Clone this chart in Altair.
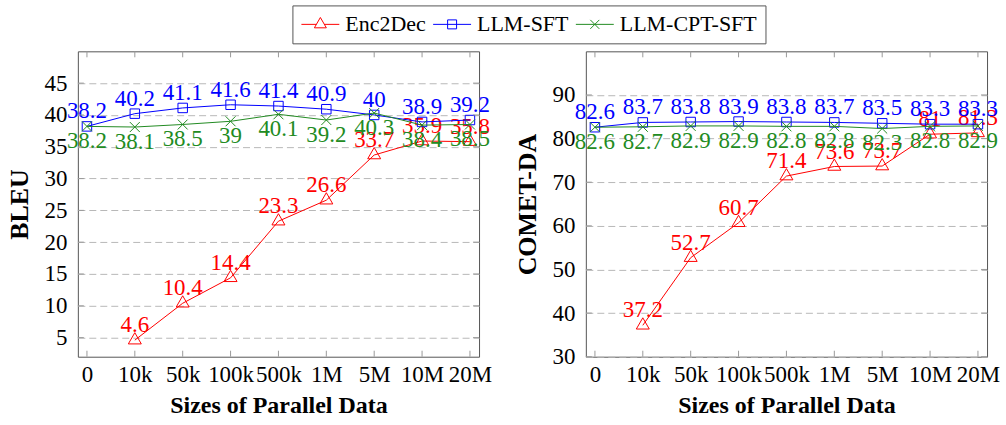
import altair as alt
import pandas as pd

sizes = ["0", "10k", "50k", "100k", "500k", "1M", "5M", "10M", "20M"]
models = ["Enc2Dec", "LLM-SFT", "LLM-CPT-SFT"]
colors = ["#ff0000", "#0000ff", "#228b22"]

bleu_enc2dec = [None, 4.6, 10.4, 14.4, 23.3, 26.6, 33.7, 35.9, 35.8]
bleu_llm_sft = [38.2, 40.2, 41.1, 41.6, 41.4, 40.9, 40.0, 38.9, 39.2]
bleu_llm_cpt_sft = [38.2, 38.1, 38.5, 39.0, 40.1, 39.2, 40.3, 38.4, 38.5]

comet_enc2dec = [None, 37.2, 52.7, 60.7, 71.4, 73.6, 73.7, 81.0, 81.3]
comet_llm_sft = [82.6, 83.7, 83.8, 83.9, 83.8, 83.7, 83.5, 83.3, 83.3]
comet_llm_cpt_sft = [82.6, 82.7, 82.9, 82.9, 82.8, 82.8, 82.3, 82.8, 82.9]

bleu_ticks = [5, 10, 15, 20, 25, 30, 35, 40, 45]
comet_ticks = [30, 40, 50, 60, 70, 80, 90]

FONT = "Liberation Serif"
FS = 23
W, H = 402, 306

# marker shapes (plot) and legend symbols (line + marker)
marker_paths = {
    "Enc2Dec": "M0,-1.1547L1,0.5774L-1,0.5774Z",
    "LLM-SFT": "M-1,-1H1V1H-1Z",
    "LLM-CPT-SFT": "M-1,-1L1,1M-1,1L1,-1",
}
marker_sizes = {"Enc2Dec": 169, "LLM-SFT": 90, "LLM-CPT-SFT": 100}
legend_paths = [
    "M-1,0H0.5M1.3,0H2.8M0.9,-0.69L1.5,0.346L0.3,0.346Z",
    "M-1,0H2.8M0.45,-0.45H1.35V0.45H0.45Z",
    "M-1,0H2.8M0.45,-0.45L1.35,0.45M0.45,0.45L1.35,-0.45",
]
label_below = {"Enc2Dec": False, "LLM-SFT": False, "LLM-CPT-SFT": True}


def fmt(v):
    return f"{v:g}"


def panel(series, ydomain, yticks, ytitle, with_legend):
    xscale = alt.Scale(domain=[-0.19, 8.19], nice=False, zero=False)
    yscale = alt.Scale(domain=ydomain, nice=False, zero=False)
    label_expr = "[" + ",".join(f"'{s}'" for s in sizes) + "][datum.value]"
    xaxis = alt.Axis(
        values=list(range(len(sizes))), labelExpr=label_expr, grid=False,
        title="Sizes of Parallel Data", titleFontSize=24, titlePadding=7,
        labelPadding=7, labelOverlap=False, labelFlush=False,
    )
    yaxis = alt.Axis(
        values=yticks, grid=True, title=ytitle, titleFontSize=26,
        titlePadding=11, labelPadding=11, labelOverlap=False, labelFlush=False,
    )
    layers = []
    all_rows = []
    for model, vals, color in zip(models, series, colors):
        rows = [
            {"idx": i, "size": s, "value": v, "label": fmt(v), "model": model}
            for i, (s, v) in enumerate(zip(sizes, vals)) if v is not None
        ]
        all_rows += rows
        df = pd.DataFrame(rows)
        base = alt.Chart(df).encode(
            x=alt.X("idx:Q", scale=xscale, axis=xaxis),
            y=alt.Y("value:Q", scale=yscale, axis=yaxis),
        )
        layers.append(base.mark_line(color=color, strokeWidth=1))
        layers.append(base.mark_point(
            shape=marker_paths[model], size=marker_sizes[model], filled=False,
            color=color, strokeWidth=1, opacity=1))
        if label_below[model]:
            txt = base.mark_text(color=color, font=FONT, fontSize=FS,
                                 baseline="alphabetic", align="center", dy=22)
        else:
            txt = base.mark_text(color=color, font=FONT, fontSize=FS,
                                 baseline="alphabetic", align="center", dy=-8)
        layers.append(txt.encode(text="label:N"))

    # inner tick marks (pgfplots style)
    xt = pd.DataFrame({"idx": list(range(len(sizes)))})
    yt = pd.DataFrame({"value": yticks})
    tcol = "#9a9a9a"
    layers.append(alt.Chart(xt).mark_rule(color=tcol, strokeWidth=1).encode(
        x=alt.X("idx:Q", scale=xscale, axis=xaxis), y=alt.value(H), y2=alt.value(H - 6)))
    layers.append(alt.Chart(xt).mark_rule(color=tcol, strokeWidth=1).encode(
        x=alt.X("idx:Q", scale=xscale, axis=xaxis), y=alt.value(0), y2=alt.value(6)))
    layers.append(alt.Chart(yt).mark_rule(color=tcol, strokeWidth=1).encode(
        y=alt.Y("value:Q", scale=yscale, axis=yaxis), x=alt.value(0), x2=alt.value(6)))
    layers.append(alt.Chart(yt).mark_rule(color=tcol, strokeWidth=1).encode(
        y=alt.Y("value:Q", scale=yscale, axis=yaxis), x=alt.value(W), x2=alt.value(W - 6)))

    if with_legend:
        leg = alt.Legend(
            orient="none", legendX=215, legendY=-46, direction="horizontal",
            title=None, labelFont=FONT, labelFontSize=22, labelColor="black",
            symbolSize=400, symbolStrokeWidth=1, symbolOpacity=1,
            symbolFillColor="transparent", labelOffset=23, columnPadding=5,
            padding=8, strokeColor="#555555", labelLimit=400,
        )
        ldf = pd.DataFrame(all_rows)
        layers.append(alt.Chart(ldf).mark_point(opacity=0, filled=False).encode(
            x=alt.X("idx:Q", scale=xscale, axis=xaxis),
            y=alt.Y("value:Q", scale=yscale, axis=yaxis),
            color=alt.Color("model:N", scale=alt.Scale(domain=models, range=colors), legend=leg),
            shape=alt.Shape("model:N", scale=alt.Scale(domain=models, range=legend_paths), legend=leg),
        ))
    return alt.layer(*layers).properties(width=W, height=H)


left = panel([bleu_enc2dec, bleu_llm_sft, bleu_llm_cpt_sft], [2, 50], bleu_ticks, "BLEU", True)
right = panel([comet_enc2dec, comet_llm_sft, comet_llm_cpt_sft], [30, 100], comet_ticks, "COMET-DA", False)

chart = alt.hconcat(left, right, spacing=21).properties(
    padding={"left": 6, "top": 4, "right": 5, "bottom": 2}
).configure_view(stroke="#555555", strokeWidth=1).configure_axis(
    labelFont=FONT, labelFontSize=FS, labelColor="black",
    titleFont=FONT, titleFontWeight="bold", titleColor="black",
    domain=False, ticks=False, tickSize=0,
    gridColor="#b8b8b8", gridDash=[7, 4], gridWidth=1,
)

chart.save("out.html", embed_options={"renderer": "svg", "actions": False})
